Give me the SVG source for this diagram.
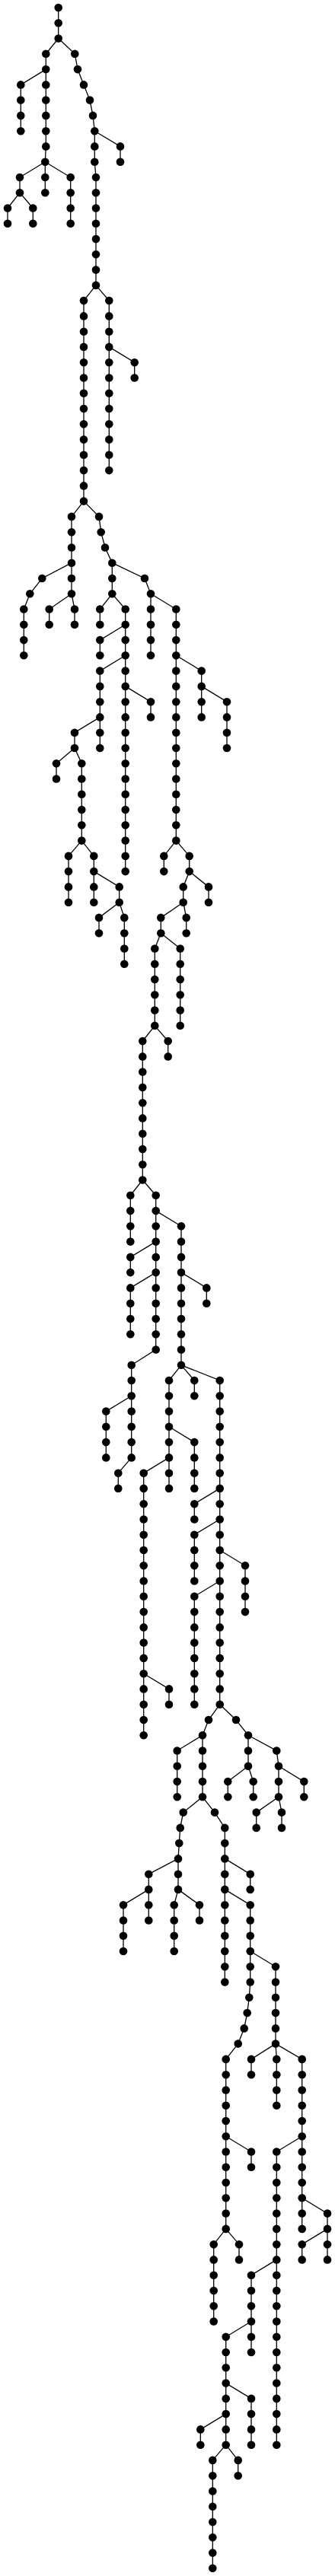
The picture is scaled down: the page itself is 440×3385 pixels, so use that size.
<svg xmlns="http://www.w3.org/2000/svg" width="440" height="3385" viewBox="0 0 440 3385">
<style>circle{fill:#000;r:5.3px}#edges path{fill:none;stroke:#000;stroke-width:1.3}</style>
<rect width="440" height="3385" fill="#fff"/>
<g id="edges">
<path d="M76.7 10V50.5"/>
<path d="M76.7 50.5L60.3 70.8V192.4L59.3 212.7"/>
<path d="M60.3 91.1L27.3 111.4V172.2"/>
<path d="M59.3 212.7L26 233V253.2"/>
<path d="M26 253.2L10 273.5V293.8"/>
<path d="M26 253.2L43.3 273.5V293.8"/>
<path d="M59.3 212.7V253.2"/>
<path d="M59.3 212.7L92.7 233V293.8"/>
<path d="M76.7 50.5L98.3 70.8L102 91.1L110 111.4L118 131.6L122 151.9L124.3 172.2V212.7L126 233V374.9"/>
<path d="M124.3 172.2L158 192.4V212.7"/>
<path d="M126 374.9L143.3 395.1V618.1"/>
<path d="M143.3 455.9L176.7 476.2V496.5"/>
<path d="M126 374.9L110 395.1V658.6"/>
<path d="M110 658.6L94 678.9V739.7"/>
<path d="M94 739.7L55.3 760L39.3 780.3L31.3 800.5V861.3"/>
<path d="M94 739.7V780.3"/>
<path d="M94 780.3L64.7 800.5V820.8"/>
<path d="M94 780.3L98 800.5V820.8"/>
<path d="M110 658.6L130 678.9L132.7 699.2L138 719.5L147.3 739.7V780.3"/>
<path d="M147.3 780.3L131.3 800.5V820.8"/>
<path d="M147.3 780.3L164.7 800.5V1145.1"/>
<path d="M164.7 820.8L131.3 841.1V861.3"/>
<path d="M164.7 861.3L131.3 881.6V983"/>
<path d="M131.3 942.4L98 962.7V983"/>
<path d="M98 983L74 1003.2V1023.5"/>
<path d="M98 983L107.3 1003.2V1104.6"/>
<path d="M107.3 1104.6L90 1124.9V1185.7"/>
<path d="M107.3 1104.6L123.3 1124.9V1185.7"/>
<path d="M123.3 1145.1L156.7 1165.4V1185.7"/>
<path d="M156.7 1185.7L130 1205.9V1226.2"/>
<path d="M156.7 1185.7L163.3 1205.9V1266.7"/>
<path d="M164.7 901.9L198 922.2V942.4"/>
<path d="M147.3 739.7L190 760L198 780.3V861.3"/>
<path d="M198 780.3L231.3 800.5V1104.6"/>
<path d="M231.3 861.3L264.7 881.6V942.4"/>
<path d="M264.7 901.9L298 922.2V983"/>
<path d="M231.3 1104.6L215.3 1124.9V1145.1"/>
<path d="M231.3 1104.6L248.7 1124.9V1145.1"/>
<path d="M248.7 1145.1L274 1165.4V1185.7"/>
<path d="M248.7 1145.1L240.7 1165.4V1185.7"/>
<path d="M240.7 1185.7L244.7 1205.9V1226.2"/>
<path d="M240.7 1185.7L211.3 1205.9V1226.2"/>
<path d="M211.3 1226.2L236.7 1246.5V1347.8"/>
<path d="M211.3 1226.2L203.3 1246.5V1347.8"/>
<path d="M203.3 1347.8L220.7 1368.1V1388.4"/>
<path d="M203.3 1347.8L187.3 1368.1V1550.5"/>
<path d="M187.3 1550.5L171.3 1570.8V1631.6"/>
<path d="M187.3 1550.5L204.7 1570.8V1773.5"/>
<path d="M204.7 1591.1L238 1611.3V1793.8"/>
<path d="M238 1672.1L271.3 1692.4V1712.7"/>
<path d="M204.7 1631.6L171.3 1651.9V1672.1"/>
<path d="M204.7 1672.1L171.3 1692.4V1753.2"/>
<path d="M204.7 1773.5L172.7 1793.8V1915.4"/>
<path d="M172.7 1834.3L139.3 1854.6V1915.4"/>
<path d="M172.7 1915.4L155.3 1935.7V1955.9"/>
<path d="M238 1793.8L222 1814V1955.9"/>
<path d="M222 1874.8L255.3 1895.1V1955.9"/>
<path d="M222 1915.4L188.7 1935.7V2280.2"/>
<path d="M188.7 2199.2L222 2219.4V2239.7"/>
<path d="M238 1793.8L255.3 1814V1834.3"/>
<path d="M238 1793.8L288.7 1814V2239.7"/>
<path d="M288.7 1955.9L255.3 1976.2V1996.5"/>
<path d="M288.7 1996.5L255.3 2016.7V2077.5"/>
<path d="M288.7 2037L322 2057.3V2118.1"/>
<path d="M288.7 2077.5L255.3 2097.8V2239.7"/>
<path d="M288.7 2239.7L274 2260L266 2280.2V2361.3"/>
<path d="M266 2280.2L232.7 2300.5V2361.3"/>
<path d="M288.7 2239.7L310 2260L326 2280.2V2320.8"/>
<path d="M326 2320.8L299.3 2341.1V2361.3"/>
<path d="M326 2320.8L332.7 2341.1V2361.3"/>
<path d="M326 2280.2L363.3 2300.5L366 2320.8V2361.3"/>
<path d="M366 2320.8L399.3 2341.1V2361.3"/>
<path d="M366 2361.3L336.7 2381.6V2401.9"/>
<path d="M366 2361.3L370 2381.6V2401.9"/>
<path d="M266 2361.3L240.7 2381.6L236.7 2401.9L235.3 2422.1L234 2442.4V2482.9"/>
<path d="M234 2442.4L195.3 2462.7V2523.5"/>
<path d="M195.3 2482.9L162 2503.2V2564"/>
<path d="M234 2482.9L228.7 2503.2V2564"/>
<path d="M234 2482.9L262 2503.2V2523.5"/>
<path d="M266 2361.3L282 2381.6L295.3 2401.9V2604.6"/>
<path d="M295.3 2442.4L328.7 2462.7V2482.9"/>
<path d="M295.3 2482.9L328.7 2503.2V2604.6L327.3 2624.8L324.7 2645.1L320.7 2665.4L312.7 2685.6L296.7 2705.9V2928.9"/>
<path d="M296.7 2807.3L330 2827.5V2847.8"/>
<path d="M296.7 2928.9L314 2949.2V2969.4"/>
<path d="M296.7 2928.9L280.7 2949.2V3050.5"/>
<path d="M328.7 2564L362 2584.3V2685.6"/>
<path d="M362 2685.6L330 2705.9V2726.2"/>
<path d="M362 2685.6L363.3 2705.9V2766.7"/>
<path d="M362 2685.6L396.7 2705.9V2928.9"/>
<path d="M396.7 2888.3L430 2908.6V2928.9"/>
<path d="M430 2928.9L396.7 2949.2V2969.4"/>
<path d="M430 2928.9V2969.4"/>
<path d="M396.7 2807.3L363.3 2827.5V3212.7"/>
<path d="M363.3 2969.4L330 2989.7V3091"/>
<path d="M330 3050.5L296.7 3070.8V3212.7"/>
<path d="M296.7 3131.6L330 3151.9V3212.7"/>
<path d="M296.7 3172.1L263.3 3192.4V3212.7"/>
<path d="M296.7 3212.7L312.7 3232.9V3253.2"/>
<path d="M296.7 3212.7L279.3 3232.9V3374.8"/>
</g>
<g id="nodes">
<g id="n1"><circle cx="76.7" cy="10"/></g>
<g id="n2"><circle cx="76.7" cy="30.3"/></g>
<g id="n3"><circle cx="76.7" cy="50.5"/></g>
<g id="n4"><circle cx="60.3" cy="70.8"/></g>
<g id="n5"><circle cx="60.3" cy="91.1"/></g>
<g id="n6"><circle cx="60.3" cy="111.4"/></g>
<g id="n7"><circle cx="60.3" cy="131.6"/></g>
<g id="n8"><circle cx="60.3" cy="151.9"/></g>
<g id="n9"><circle cx="60.3" cy="172.2"/></g>
<g id="n10"><circle cx="60.3" cy="192.4"/></g>
<g id="n11"><circle cx="59.3" cy="212.7"/></g>
<g id="n12"><circle cx="27.3" cy="111.4"/></g>
<g id="n13"><circle cx="27.3" cy="131.6"/></g>
<g id="n14"><circle cx="27.3" cy="151.9"/></g>
<g id="n15"><circle cx="27.3" cy="172.2"/></g>
<g id="n16"><circle cx="26" cy="233"/></g>
<g id="n17"><circle cx="26" cy="253.2"/></g>
<g id="n18"><circle cx="10" cy="273.5"/></g>
<g id="n19"><circle cx="10" cy="293.8"/></g>
<g id="n20"><circle cx="43.3" cy="273.5"/></g>
<g id="n21"><circle cx="43.3" cy="293.8"/></g>
<g id="n22"><circle cx="59.3" cy="233"/></g>
<g id="n23"><circle cx="59.3" cy="253.2"/></g>
<g id="n24"><circle cx="92.7" cy="233"/></g>
<g id="n25"><circle cx="92.7" cy="253.2"/></g>
<g id="n26"><circle cx="92.7" cy="273.5"/></g>
<g id="n27"><circle cx="92.7" cy="293.8"/></g>
<g id="n28"><circle cx="98.3" cy="70.8"/></g>
<g id="n29"><circle cx="102" cy="91.1"/></g>
<g id="n30"><circle cx="110" cy="111.4"/></g>
<g id="n31"><circle cx="118" cy="131.6"/></g>
<g id="n32"><circle cx="122" cy="151.9"/></g>
<g id="n33"><circle cx="124.3" cy="172.2"/></g>
<g id="n34"><circle cx="124.3" cy="192.4"/></g>
<g id="n35"><circle cx="124.3" cy="212.7"/></g>
<g id="n36"><circle cx="126" cy="233"/></g>
<g id="n37"><circle cx="126" cy="253.2"/></g>
<g id="n38"><circle cx="126" cy="273.5"/></g>
<g id="n39"><circle cx="126" cy="293.8"/></g>
<g id="n40"><circle cx="126" cy="314.1"/></g>
<g id="n41"><circle cx="126" cy="334.3"/></g>
<g id="n42"><circle cx="126" cy="354.6"/></g>
<g id="n43"><circle cx="126" cy="374.9"/></g>
<g id="n44"><circle cx="158" cy="192.4"/></g>
<g id="n45"><circle cx="158" cy="212.7"/></g>
<g id="n46"><circle cx="143.3" cy="395.1"/></g>
<g id="n47"><circle cx="143.3" cy="415.4"/></g>
<g id="n48"><circle cx="143.3" cy="435.7"/></g>
<g id="n49"><circle cx="143.3" cy="455.9"/></g>
<g id="n50"><circle cx="143.3" cy="476.2"/></g>
<g id="n51"><circle cx="143.3" cy="496.5"/></g>
<g id="n52"><circle cx="143.3" cy="516.8"/></g>
<g id="n53"><circle cx="143.3" cy="537"/></g>
<g id="n54"><circle cx="143.3" cy="557.3"/></g>
<g id="n55"><circle cx="143.3" cy="577.6"/></g>
<g id="n56"><circle cx="143.3" cy="597.8"/></g>
<g id="n57"><circle cx="143.3" cy="618.1"/></g>
<g id="n58"><circle cx="176.7" cy="476.2"/></g>
<g id="n59"><circle cx="176.7" cy="496.5"/></g>
<g id="n60"><circle cx="110" cy="395.1"/></g>
<g id="n61"><circle cx="110" cy="415.4"/></g>
<g id="n62"><circle cx="110" cy="435.7"/></g>
<g id="n63"><circle cx="110" cy="455.9"/></g>
<g id="n64"><circle cx="110" cy="476.2"/></g>
<g id="n65"><circle cx="110" cy="496.5"/></g>
<g id="n66"><circle cx="110" cy="516.8"/></g>
<g id="n67"><circle cx="110" cy="537"/></g>
<g id="n68"><circle cx="110" cy="557.3"/></g>
<g id="n69"><circle cx="110" cy="577.6"/></g>
<g id="n70"><circle cx="110" cy="597.8"/></g>
<g id="n71"><circle cx="110" cy="618.1"/></g>
<g id="n72"><circle cx="110" cy="638.4"/></g>
<g id="n73"><circle cx="110" cy="658.6"/></g>
<g id="n74"><circle cx="94" cy="678.9"/></g>
<g id="n75"><circle cx="94" cy="699.2"/></g>
<g id="n76"><circle cx="94" cy="719.5"/></g>
<g id="n77"><circle cx="94" cy="739.7"/></g>
<g id="n78"><circle cx="55.3" cy="760"/></g>
<g id="n79"><circle cx="39.3" cy="780.3"/></g>
<g id="n80"><circle cx="31.3" cy="800.5"/></g>
<g id="n81"><circle cx="31.3" cy="820.8"/></g>
<g id="n82"><circle cx="31.3" cy="841.1"/></g>
<g id="n83"><circle cx="31.3" cy="861.3"/></g>
<g id="n84"><circle cx="94" cy="760"/></g>
<g id="n85"><circle cx="94" cy="780.3"/></g>
<g id="n86"><circle cx="64.7" cy="800.5"/></g>
<g id="n87"><circle cx="64.7" cy="820.8"/></g>
<g id="n88"><circle cx="98" cy="800.5"/></g>
<g id="n89"><circle cx="98" cy="820.8"/></g>
<g id="n90"><circle cx="130" cy="678.9"/></g>
<g id="n91"><circle cx="132.7" cy="699.2"/></g>
<g id="n92"><circle cx="138" cy="719.5"/></g>
<g id="n93"><circle cx="147.3" cy="739.7"/></g>
<g id="n94"><circle cx="147.3" cy="760"/></g>
<g id="n95"><circle cx="147.3" cy="780.3"/></g>
<g id="n96"><circle cx="131.3" cy="800.5"/></g>
<g id="n97"><circle cx="131.3" cy="820.8"/></g>
<g id="n98"><circle cx="164.7" cy="800.5"/></g>
<g id="n99"><circle cx="164.7" cy="820.8"/></g>
<g id="n100"><circle cx="164.7" cy="841.1"/></g>
<g id="n101"><circle cx="164.7" cy="861.3"/></g>
<g id="n102"><circle cx="164.7" cy="881.6"/></g>
<g id="n103"><circle cx="164.7" cy="901.9"/></g>
<g id="n104"><circle cx="164.7" cy="922.2"/></g>
<g id="n105"><circle cx="164.7" cy="942.4"/></g>
<g id="n106"><circle cx="164.7" cy="962.7"/></g>
<g id="n107"><circle cx="164.7" cy="983"/></g>
<g id="n108"><circle cx="164.7" cy="1003.2"/></g>
<g id="n109"><circle cx="164.7" cy="1023.5"/></g>
<g id="n110"><circle cx="164.7" cy="1043.8"/></g>
<g id="n111"><circle cx="164.7" cy="1064"/></g>
<g id="n112"><circle cx="164.7" cy="1084.3"/></g>
<g id="n113"><circle cx="164.7" cy="1104.6"/></g>
<g id="n114"><circle cx="164.7" cy="1124.9"/></g>
<g id="n115"><circle cx="164.7" cy="1145.1"/></g>
<g id="n116"><circle cx="131.3" cy="841.1"/></g>
<g id="n117"><circle cx="131.3" cy="861.3"/></g>
<g id="n118"><circle cx="131.3" cy="881.6"/></g>
<g id="n119"><circle cx="131.3" cy="901.9"/></g>
<g id="n120"><circle cx="131.3" cy="922.2"/></g>
<g id="n121"><circle cx="131.3" cy="942.4"/></g>
<g id="n122"><circle cx="131.3" cy="962.7"/></g>
<g id="n123"><circle cx="131.3" cy="983"/></g>
<g id="n124"><circle cx="98" cy="962.7"/></g>
<g id="n125"><circle cx="98" cy="983"/></g>
<g id="n126"><circle cx="74" cy="1003.2"/></g>
<g id="n127"><circle cx="74" cy="1023.5"/></g>
<g id="n128"><circle cx="107.3" cy="1003.2"/></g>
<g id="n129"><circle cx="107.3" cy="1023.5"/></g>
<g id="n130"><circle cx="107.3" cy="1043.8"/></g>
<g id="n131"><circle cx="107.3" cy="1064"/></g>
<g id="n132"><circle cx="107.3" cy="1084.3"/></g>
<g id="n133"><circle cx="107.3" cy="1104.6"/></g>
<g id="n134"><circle cx="90" cy="1124.9"/></g>
<g id="n135"><circle cx="90" cy="1145.1"/></g>
<g id="n136"><circle cx="90" cy="1165.4"/></g>
<g id="n137"><circle cx="90" cy="1185.7"/></g>
<g id="n138"><circle cx="123.3" cy="1124.9"/></g>
<g id="n139"><circle cx="123.3" cy="1145.1"/></g>
<g id="n140"><circle cx="123.3" cy="1165.4"/></g>
<g id="n141"><circle cx="123.3" cy="1185.7"/></g>
<g id="n142"><circle cx="156.7" cy="1165.4"/></g>
<g id="n143"><circle cx="156.7" cy="1185.7"/></g>
<g id="n144"><circle cx="130" cy="1205.9"/></g>
<g id="n145"><circle cx="130" cy="1226.2"/></g>
<g id="n146"><circle cx="163.3" cy="1205.9"/></g>
<g id="n147"><circle cx="163.3" cy="1226.2"/></g>
<g id="n148"><circle cx="163.3" cy="1246.5"/></g>
<g id="n149"><circle cx="163.3" cy="1266.7"/></g>
<g id="n150"><circle cx="198" cy="922.2"/></g>
<g id="n151"><circle cx="198" cy="942.4"/></g>
<g id="n152"><circle cx="190" cy="760"/></g>
<g id="n153"><circle cx="198" cy="780.3"/></g>
<g id="n154"><circle cx="198" cy="800.5"/></g>
<g id="n155"><circle cx="198" cy="820.8"/></g>
<g id="n156"><circle cx="198" cy="841.1"/></g>
<g id="n157"><circle cx="198" cy="861.3"/></g>
<g id="n158"><circle cx="231.3" cy="800.5"/></g>
<g id="n159"><circle cx="231.3" cy="820.8"/></g>
<g id="n160"><circle cx="231.3" cy="841.1"/></g>
<g id="n161"><circle cx="231.3" cy="861.3"/></g>
<g id="n162"><circle cx="231.3" cy="881.6"/></g>
<g id="n163"><circle cx="231.3" cy="901.9"/></g>
<g id="n164"><circle cx="231.3" cy="922.2"/></g>
<g id="n165"><circle cx="231.3" cy="942.4"/></g>
<g id="n166"><circle cx="231.3" cy="962.7"/></g>
<g id="n167"><circle cx="231.3" cy="983"/></g>
<g id="n168"><circle cx="231.3" cy="1003.2"/></g>
<g id="n169"><circle cx="231.3" cy="1023.5"/></g>
<g id="n170"><circle cx="231.3" cy="1043.8"/></g>
<g id="n171"><circle cx="231.3" cy="1064"/></g>
<g id="n172"><circle cx="231.3" cy="1084.3"/></g>
<g id="n173"><circle cx="231.3" cy="1104.6"/></g>
<g id="n174"><circle cx="264.7" cy="881.6"/></g>
<g id="n175"><circle cx="264.7" cy="901.9"/></g>
<g id="n176"><circle cx="264.7" cy="922.2"/></g>
<g id="n177"><circle cx="264.7" cy="942.4"/></g>
<g id="n178"><circle cx="298" cy="922.2"/></g>
<g id="n179"><circle cx="298" cy="942.4"/></g>
<g id="n180"><circle cx="298" cy="962.7"/></g>
<g id="n181"><circle cx="298" cy="983"/></g>
<g id="n182"><circle cx="215.3" cy="1124.9"/></g>
<g id="n183"><circle cx="215.3" cy="1145.1"/></g>
<g id="n184"><circle cx="248.7" cy="1124.9"/></g>
<g id="n185"><circle cx="248.7" cy="1145.1"/></g>
<g id="n186"><circle cx="274" cy="1165.4"/></g>
<g id="n187"><circle cx="274" cy="1185.7"/></g>
<g id="n188"><circle cx="240.7" cy="1165.4"/></g>
<g id="n189"><circle cx="240.7" cy="1185.7"/></g>
<g id="n190"><circle cx="244.7" cy="1205.9"/></g>
<g id="n191"><circle cx="244.7" cy="1226.2"/></g>
<g id="n192"><circle cx="211.3" cy="1205.9"/></g>
<g id="n193"><circle cx="211.3" cy="1226.2"/></g>
<g id="n194"><circle cx="236.7" cy="1246.5"/></g>
<g id="n195"><circle cx="236.7" cy="1266.7"/></g>
<g id="n196"><circle cx="236.7" cy="1287"/></g>
<g id="n197"><circle cx="236.7" cy="1307.3"/></g>
<g id="n198"><circle cx="236.7" cy="1327.6"/></g>
<g id="n199"><circle cx="236.7" cy="1347.8"/></g>
<g id="n200"><circle cx="203.3" cy="1246.5"/></g>
<g id="n201"><circle cx="203.3" cy="1266.7"/></g>
<g id="n202"><circle cx="203.3" cy="1287"/></g>
<g id="n203"><circle cx="203.3" cy="1307.3"/></g>
<g id="n204"><circle cx="203.3" cy="1327.6"/></g>
<g id="n205"><circle cx="203.3" cy="1347.8"/></g>
<g id="n206"><circle cx="220.7" cy="1368.1"/></g>
<g id="n207"><circle cx="220.7" cy="1388.4"/></g>
<g id="n208"><circle cx="187.3" cy="1368.1"/></g>
<g id="n209"><circle cx="187.3" cy="1388.4"/></g>
<g id="n210"><circle cx="187.3" cy="1408.6"/></g>
<g id="n211"><circle cx="187.3" cy="1428.9"/></g>
<g id="n212"><circle cx="187.3" cy="1449.2"/></g>
<g id="n213"><circle cx="187.3" cy="1469.4"/></g>
<g id="n214"><circle cx="187.3" cy="1489.7"/></g>
<g id="n215"><circle cx="187.3" cy="1510"/></g>
<g id="n216"><circle cx="187.3" cy="1530.3"/></g>
<g id="n217"><circle cx="187.3" cy="1550.5"/></g>
<g id="n218"><circle cx="171.3" cy="1570.8"/></g>
<g id="n219"><circle cx="171.3" cy="1591.1"/></g>
<g id="n220"><circle cx="171.3" cy="1611.3"/></g>
<g id="n221"><circle cx="171.3" cy="1631.6"/></g>
<g id="n222"><circle cx="204.7" cy="1570.8"/></g>
<g id="n223"><circle cx="204.7" cy="1591.1"/></g>
<g id="n224"><circle cx="204.7" cy="1611.3"/></g>
<g id="n225"><circle cx="204.7" cy="1631.6"/></g>
<g id="n226"><circle cx="204.7" cy="1651.9"/></g>
<g id="n227"><circle cx="204.7" cy="1672.1"/></g>
<g id="n228"><circle cx="204.7" cy="1692.4"/></g>
<g id="n229"><circle cx="204.7" cy="1712.7"/></g>
<g id="n230"><circle cx="204.7" cy="1733"/></g>
<g id="n231"><circle cx="204.7" cy="1753.2"/></g>
<g id="n232"><circle cx="204.7" cy="1773.5"/></g>
<g id="n233"><circle cx="238" cy="1611.3"/></g>
<g id="n234"><circle cx="238" cy="1631.6"/></g>
<g id="n235"><circle cx="238" cy="1651.9"/></g>
<g id="n236"><circle cx="238" cy="1672.1"/></g>
<g id="n237"><circle cx="238" cy="1692.4"/></g>
<g id="n238"><circle cx="238" cy="1712.7"/></g>
<g id="n239"><circle cx="238" cy="1733"/></g>
<g id="n240"><circle cx="238" cy="1753.2"/></g>
<g id="n241"><circle cx="238" cy="1773.5"/></g>
<g id="n242"><circle cx="238" cy="1793.8"/></g>
<g id="n243"><circle cx="271.3" cy="1692.4"/></g>
<g id="n244"><circle cx="271.3" cy="1712.7"/></g>
<g id="n245"><circle cx="171.3" cy="1651.9"/></g>
<g id="n246"><circle cx="171.3" cy="1672.1"/></g>
<g id="n247"><circle cx="171.3" cy="1692.4"/></g>
<g id="n248"><circle cx="171.3" cy="1712.7"/></g>
<g id="n249"><circle cx="171.3" cy="1733"/></g>
<g id="n250"><circle cx="171.3" cy="1753.2"/></g>
<g id="n251"><circle cx="172.7" cy="1793.8"/></g>
<g id="n252"><circle cx="172.7" cy="1814"/></g>
<g id="n253"><circle cx="172.7" cy="1834.3"/></g>
<g id="n254"><circle cx="172.7" cy="1854.6"/></g>
<g id="n255"><circle cx="172.7" cy="1874.8"/></g>
<g id="n256"><circle cx="172.7" cy="1895.1"/></g>
<g id="n257"><circle cx="172.7" cy="1915.4"/></g>
<g id="n258"><circle cx="139.3" cy="1854.6"/></g>
<g id="n259"><circle cx="139.3" cy="1874.8"/></g>
<g id="n260"><circle cx="139.3" cy="1895.1"/></g>
<g id="n261"><circle cx="139.3" cy="1915.4"/></g>
<g id="n262"><circle cx="155.3" cy="1935.7"/></g>
<g id="n263"><circle cx="155.3" cy="1955.9"/></g>
<g id="n264"><circle cx="222" cy="1814"/></g>
<g id="n265"><circle cx="222" cy="1834.3"/></g>
<g id="n266"><circle cx="222" cy="1854.6"/></g>
<g id="n267"><circle cx="222" cy="1874.8"/></g>
<g id="n268"><circle cx="222" cy="1895.1"/></g>
<g id="n269"><circle cx="222" cy="1915.4"/></g>
<g id="n270"><circle cx="222" cy="1935.7"/></g>
<g id="n271"><circle cx="222" cy="1955.9"/></g>
<g id="n272"><circle cx="255.3" cy="1895.1"/></g>
<g id="n273"><circle cx="255.3" cy="1915.4"/></g>
<g id="n274"><circle cx="255.3" cy="1935.7"/></g>
<g id="n275"><circle cx="255.3" cy="1955.9"/></g>
<g id="n276"><circle cx="188.7" cy="1935.7"/></g>
<g id="n277"><circle cx="188.7" cy="1955.9"/></g>
<g id="n278"><circle cx="188.7" cy="1976.2"/></g>
<g id="n279"><circle cx="188.7" cy="1996.5"/></g>
<g id="n280"><circle cx="188.7" cy="2016.7"/></g>
<g id="n281"><circle cx="188.7" cy="2037"/></g>
<g id="n282"><circle cx="188.7" cy="2057.3"/></g>
<g id="n283"><circle cx="188.7" cy="2077.5"/></g>
<g id="n284"><circle cx="188.7" cy="2097.8"/></g>
<g id="n285"><circle cx="188.7" cy="2118.1"/></g>
<g id="n286"><circle cx="188.7" cy="2138.4"/></g>
<g id="n287"><circle cx="188.7" cy="2158.6"/></g>
<g id="n288"><circle cx="188.7" cy="2178.9"/></g>
<g id="n289"><circle cx="188.7" cy="2199.2"/></g>
<g id="n290"><circle cx="188.7" cy="2219.4"/></g>
<g id="n291"><circle cx="188.7" cy="2239.7"/></g>
<g id="n292"><circle cx="188.7" cy="2260"/></g>
<g id="n293"><circle cx="188.7" cy="2280.2"/></g>
<g id="n294"><circle cx="222" cy="2219.4"/></g>
<g id="n295"><circle cx="222" cy="2239.7"/></g>
<g id="n296"><circle cx="255.3" cy="1814"/></g>
<g id="n297"><circle cx="255.3" cy="1834.3"/></g>
<g id="n298"><circle cx="288.7" cy="1814"/></g>
<g id="n299"><circle cx="288.7" cy="1834.3"/></g>
<g id="n300"><circle cx="288.7" cy="1854.6"/></g>
<g id="n301"><circle cx="288.7" cy="1874.8"/></g>
<g id="n302"><circle cx="288.7" cy="1895.1"/></g>
<g id="n303"><circle cx="288.7" cy="1915.4"/></g>
<g id="n304"><circle cx="288.7" cy="1935.7"/></g>
<g id="n305"><circle cx="288.7" cy="1955.9"/></g>
<g id="n306"><circle cx="288.7" cy="1976.2"/></g>
<g id="n307"><circle cx="288.7" cy="1996.5"/></g>
<g id="n308"><circle cx="288.7" cy="2016.7"/></g>
<g id="n309"><circle cx="288.7" cy="2037"/></g>
<g id="n310"><circle cx="288.7" cy="2057.3"/></g>
<g id="n311"><circle cx="288.7" cy="2077.5"/></g>
<g id="n312"><circle cx="288.7" cy="2097.8"/></g>
<g id="n313"><circle cx="288.7" cy="2118.1"/></g>
<g id="n314"><circle cx="288.7" cy="2138.4"/></g>
<g id="n315"><circle cx="288.7" cy="2158.6"/></g>
<g id="n316"><circle cx="288.7" cy="2178.9"/></g>
<g id="n317"><circle cx="288.7" cy="2199.2"/></g>
<g id="n318"><circle cx="288.7" cy="2219.4"/></g>
<g id="n319"><circle cx="288.7" cy="2239.7"/></g>
<g id="n320"><circle cx="255.3" cy="1976.2"/></g>
<g id="n321"><circle cx="255.3" cy="1996.5"/></g>
<g id="n322"><circle cx="255.3" cy="2016.7"/></g>
<g id="n323"><circle cx="255.3" cy="2037"/></g>
<g id="n324"><circle cx="255.3" cy="2057.3"/></g>
<g id="n325"><circle cx="255.3" cy="2077.5"/></g>
<g id="n326"><circle cx="322" cy="2057.3"/></g>
<g id="n327"><circle cx="322" cy="2077.5"/></g>
<g id="n328"><circle cx="322" cy="2097.8"/></g>
<g id="n329"><circle cx="322" cy="2118.1"/></g>
<g id="n330"><circle cx="255.3" cy="2097.8"/></g>
<g id="n331"><circle cx="255.3" cy="2118.1"/></g>
<g id="n332"><circle cx="255.3" cy="2138.4"/></g>
<g id="n333"><circle cx="255.3" cy="2158.6"/></g>
<g id="n334"><circle cx="255.3" cy="2178.9"/></g>
<g id="n335"><circle cx="255.3" cy="2199.2"/></g>
<g id="n336"><circle cx="255.3" cy="2219.4"/></g>
<g id="n337"><circle cx="255.3" cy="2239.7"/></g>
<g id="n338"><circle cx="274" cy="2260"/></g>
<g id="n339"><circle cx="266" cy="2280.2"/></g>
<g id="n340"><circle cx="266" cy="2300.5"/></g>
<g id="n341"><circle cx="266" cy="2320.8"/></g>
<g id="n342"><circle cx="266" cy="2341.1"/></g>
<g id="n343"><circle cx="266" cy="2361.3"/></g>
<g id="n344"><circle cx="232.7" cy="2300.5"/></g>
<g id="n345"><circle cx="232.7" cy="2320.8"/></g>
<g id="n346"><circle cx="232.7" cy="2341.1"/></g>
<g id="n347"><circle cx="232.7" cy="2361.3"/></g>
<g id="n348"><circle cx="310" cy="2260"/></g>
<g id="n349"><circle cx="326" cy="2280.2"/></g>
<g id="n350"><circle cx="326" cy="2300.5"/></g>
<g id="n351"><circle cx="326" cy="2320.8"/></g>
<g id="n352"><circle cx="299.3" cy="2341.1"/></g>
<g id="n353"><circle cx="299.3" cy="2361.3"/></g>
<g id="n354"><circle cx="332.7" cy="2341.1"/></g>
<g id="n355"><circle cx="332.7" cy="2361.3"/></g>
<g id="n356"><circle cx="363.3" cy="2300.5"/></g>
<g id="n357"><circle cx="366" cy="2320.8"/></g>
<g id="n358"><circle cx="366" cy="2341.1"/></g>
<g id="n359"><circle cx="366" cy="2361.3"/></g>
<g id="n360"><circle cx="399.3" cy="2341.1"/></g>
<g id="n361"><circle cx="399.3" cy="2361.3"/></g>
<g id="n362"><circle cx="336.7" cy="2381.6"/></g>
<g id="n363"><circle cx="336.7" cy="2401.9"/></g>
<g id="n364"><circle cx="370" cy="2381.6"/></g>
<g id="n365"><circle cx="370" cy="2401.9"/></g>
<g id="n366"><circle cx="240.7" cy="2381.6"/></g>
<g id="n367"><circle cx="236.7" cy="2401.9"/></g>
<g id="n368"><circle cx="235.3" cy="2422.1"/></g>
<g id="n369"><circle cx="234" cy="2442.4"/></g>
<g id="n370"><circle cx="234" cy="2462.7"/></g>
<g id="n371"><circle cx="234" cy="2482.9"/></g>
<g id="n372"><circle cx="195.3" cy="2462.7"/></g>
<g id="n373"><circle cx="195.3" cy="2482.9"/></g>
<g id="n374"><circle cx="195.3" cy="2503.2"/></g>
<g id="n375"><circle cx="195.3" cy="2523.5"/></g>
<g id="n376"><circle cx="162" cy="2503.2"/></g>
<g id="n377"><circle cx="162" cy="2523.5"/></g>
<g id="n378"><circle cx="162" cy="2543.8"/></g>
<g id="n379"><circle cx="162" cy="2564"/></g>
<g id="n380"><circle cx="228.7" cy="2503.2"/></g>
<g id="n381"><circle cx="228.7" cy="2523.5"/></g>
<g id="n382"><circle cx="228.7" cy="2543.8"/></g>
<g id="n383"><circle cx="228.7" cy="2564"/></g>
<g id="n384"><circle cx="262" cy="2503.2"/></g>
<g id="n385"><circle cx="262" cy="2523.5"/></g>
<g id="n386"><circle cx="282" cy="2381.6"/></g>
<g id="n387"><circle cx="295.3" cy="2401.9"/></g>
<g id="n388"><circle cx="295.3" cy="2422.1"/></g>
<g id="n389"><circle cx="295.3" cy="2442.4"/></g>
<g id="n390"><circle cx="295.3" cy="2462.7"/></g>
<g id="n391"><circle cx="295.3" cy="2482.9"/></g>
<g id="n392"><circle cx="295.3" cy="2503.2"/></g>
<g id="n393"><circle cx="295.3" cy="2523.5"/></g>
<g id="n394"><circle cx="295.3" cy="2543.8"/></g>
<g id="n395"><circle cx="295.3" cy="2564"/></g>
<g id="n396"><circle cx="295.3" cy="2584.3"/></g>
<g id="n397"><circle cx="295.3" cy="2604.6"/></g>
<g id="n398"><circle cx="328.7" cy="2462.7"/></g>
<g id="n399"><circle cx="328.7" cy="2482.9"/></g>
<g id="n400"><circle cx="328.7" cy="2503.2"/></g>
<g id="n401"><circle cx="328.7" cy="2523.5"/></g>
<g id="n402"><circle cx="328.7" cy="2543.8"/></g>
<g id="n403"><circle cx="328.7" cy="2564"/></g>
<g id="n404"><circle cx="328.7" cy="2584.3"/></g>
<g id="n405"><circle cx="328.7" cy="2604.6"/></g>
<g id="n406"><circle cx="327.3" cy="2624.8"/></g>
<g id="n407"><circle cx="324.7" cy="2645.1"/></g>
<g id="n408"><circle cx="320.7" cy="2665.4"/></g>
<g id="n409"><circle cx="312.7" cy="2685.6"/></g>
<g id="n410"><circle cx="296.7" cy="2705.9"/></g>
<g id="n411"><circle cx="296.7" cy="2726.2"/></g>
<g id="n412"><circle cx="296.7" cy="2746.5"/></g>
<g id="n413"><circle cx="296.7" cy="2766.7"/></g>
<g id="n414"><circle cx="296.7" cy="2787"/></g>
<g id="n415"><circle cx="296.7" cy="2807.3"/></g>
<g id="n416"><circle cx="296.7" cy="2827.5"/></g>
<g id="n417"><circle cx="296.7" cy="2847.8"/></g>
<g id="n418"><circle cx="296.7" cy="2868.1"/></g>
<g id="n419"><circle cx="296.7" cy="2888.3"/></g>
<g id="n420"><circle cx="296.7" cy="2908.6"/></g>
<g id="n421"><circle cx="296.7" cy="2928.9"/></g>
<g id="n422"><circle cx="330" cy="2827.5"/></g>
<g id="n423"><circle cx="330" cy="2847.8"/></g>
<g id="n424"><circle cx="314" cy="2949.2"/></g>
<g id="n425"><circle cx="314" cy="2969.4"/></g>
<g id="n426"><circle cx="280.7" cy="2949.2"/></g>
<g id="n427"><circle cx="280.7" cy="2969.4"/></g>
<g id="n428"><circle cx="280.7" cy="2989.7"/></g>
<g id="n429"><circle cx="280.7" cy="3010"/></g>
<g id="n430"><circle cx="280.7" cy="3030.2"/></g>
<g id="n431"><circle cx="280.7" cy="3050.5"/></g>
<g id="n432"><circle cx="362" cy="2584.3"/></g>
<g id="n433"><circle cx="362" cy="2604.6"/></g>
<g id="n434"><circle cx="362" cy="2624.8"/></g>
<g id="n435"><circle cx="362" cy="2645.1"/></g>
<g id="n436"><circle cx="362" cy="2665.4"/></g>
<g id="n437"><circle cx="362" cy="2685.6"/></g>
<g id="n438"><circle cx="330" cy="2705.9"/></g>
<g id="n439"><circle cx="330" cy="2726.2"/></g>
<g id="n440"><circle cx="363.3" cy="2705.9"/></g>
<g id="n441"><circle cx="363.3" cy="2726.2"/></g>
<g id="n442"><circle cx="363.3" cy="2746.5"/></g>
<g id="n443"><circle cx="363.3" cy="2766.7"/></g>
<g id="n444"><circle cx="396.7" cy="2705.9"/></g>
<g id="n445"><circle cx="396.7" cy="2726.2"/></g>
<g id="n446"><circle cx="396.7" cy="2746.5"/></g>
<g id="n447"><circle cx="396.7" cy="2766.7"/></g>
<g id="n448"><circle cx="396.7" cy="2787"/></g>
<g id="n449"><circle cx="396.7" cy="2807.3"/></g>
<g id="n450"><circle cx="396.7" cy="2827.5"/></g>
<g id="n451"><circle cx="396.7" cy="2847.8"/></g>
<g id="n452"><circle cx="396.7" cy="2868.1"/></g>
<g id="n453"><circle cx="396.7" cy="2888.3"/></g>
<g id="n454"><circle cx="396.7" cy="2908.6"/></g>
<g id="n455"><circle cx="396.7" cy="2928.9"/></g>
<g id="n456"><circle cx="430" cy="2908.6"/></g>
<g id="n457"><circle cx="430" cy="2928.9"/></g>
<g id="n458"><circle cx="396.7" cy="2949.2"/></g>
<g id="n459"><circle cx="396.7" cy="2969.4"/></g>
<g id="n460"><circle cx="430" cy="2949.2"/></g>
<g id="n461"><circle cx="430" cy="2969.4"/></g>
<g id="n462"><circle cx="363.3" cy="2827.5"/></g>
<g id="n463"><circle cx="363.3" cy="2847.8"/></g>
<g id="n464"><circle cx="363.3" cy="2868.1"/></g>
<g id="n465"><circle cx="363.3" cy="2888.3"/></g>
<g id="n466"><circle cx="363.3" cy="2908.6"/></g>
<g id="n467"><circle cx="363.3" cy="2928.9"/></g>
<g id="n468"><circle cx="363.3" cy="2949.2"/></g>
<g id="n469"><circle cx="363.3" cy="2969.4"/></g>
<g id="n470"><circle cx="363.3" cy="2989.7"/></g>
<g id="n471"><circle cx="363.3" cy="3010"/></g>
<g id="n472"><circle cx="363.3" cy="3030.2"/></g>
<g id="n473"><circle cx="363.3" cy="3050.5"/></g>
<g id="n474"><circle cx="363.3" cy="3070.8"/></g>
<g id="n475"><circle cx="363.3" cy="3091"/></g>
<g id="n476"><circle cx="363.3" cy="3111.3"/></g>
<g id="n477"><circle cx="363.3" cy="3131.6"/></g>
<g id="n478"><circle cx="363.3" cy="3151.9"/></g>
<g id="n479"><circle cx="363.3" cy="3172.1"/></g>
<g id="n480"><circle cx="363.3" cy="3192.4"/></g>
<g id="n481"><circle cx="363.3" cy="3212.7"/></g>
<g id="n482"><circle cx="330" cy="2989.7"/></g>
<g id="n483"><circle cx="330" cy="3010"/></g>
<g id="n484"><circle cx="330" cy="3030.2"/></g>
<g id="n485"><circle cx="330" cy="3050.5"/></g>
<g id="n486"><circle cx="330" cy="3070.8"/></g>
<g id="n487"><circle cx="330" cy="3091"/></g>
<g id="n488"><circle cx="296.7" cy="3070.8"/></g>
<g id="n489"><circle cx="296.7" cy="3091"/></g>
<g id="n490"><circle cx="296.7" cy="3111.3"/></g>
<g id="n491"><circle cx="296.7" cy="3131.6"/></g>
<g id="n492"><circle cx="296.7" cy="3151.9"/></g>
<g id="n493"><circle cx="296.7" cy="3172.1"/></g>
<g id="n494"><circle cx="296.7" cy="3192.4"/></g>
<g id="n495"><circle cx="296.7" cy="3212.7"/></g>
<g id="n496"><circle cx="330" cy="3151.9"/></g>
<g id="n497"><circle cx="330" cy="3172.1"/></g>
<g id="n498"><circle cx="330" cy="3192.4"/></g>
<g id="n499"><circle cx="330" cy="3212.7"/></g>
<g id="n500"><circle cx="263.3" cy="3192.4"/></g>
<g id="n501"><circle cx="263.3" cy="3212.7"/></g>
<g id="n502"><circle cx="312.7" cy="3232.9"/></g>
<g id="n503"><circle cx="312.7" cy="3253.2"/></g>
<g id="n504"><circle cx="279.3" cy="3232.9"/></g>
<g id="n505"><circle cx="279.3" cy="3253.2"/></g>
<g id="n506"><circle cx="279.3" cy="3273.5"/></g>
<g id="n507"><circle cx="279.3" cy="3293.7"/></g>
<g id="n508"><circle cx="279.3" cy="3314"/></g>
<g id="n509"><circle cx="279.3" cy="3334.3"/></g>
<g id="n510"><circle cx="279.3" cy="3354.6"/></g>
<g id="n511"><circle cx="279.3" cy="3374.8"/></g>
</g>
</svg>
